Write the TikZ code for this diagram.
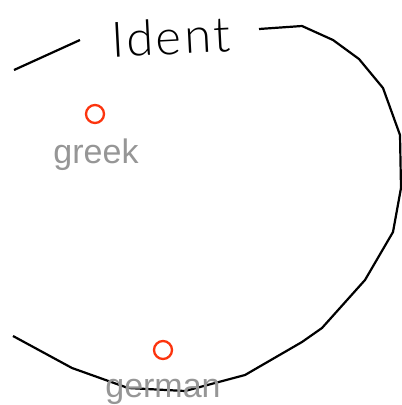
\documentclass[tikz,border=0pt]{standalone}
\usepackage{fontspec}
\setmainfont{Liberation Sans}
\newfontfamily\identfont{Lato}[UprightFont={* Light}, LetterSpace=6]
\usetikzlibrary{positioning}
\definecolor{SetLine}{RGB}{0,0,0}
\definecolor{PointRed}{RGB}{252,52,14}
\definecolor{LabelGray}{RGB}{150,150,150}
\tikzset{
  contorno/.style={draw=SetLine, line width=2.2pt, line join=miter},
  ponto/.style={circle, draw=PointRed, line width=2.3pt, minimum size=18pt, inner sep=0pt},
  rotulo/.style={text=LabelGray, font=\fontsize{34}{34}\selectfont, inner sep=0pt, anchor=base},
  titulo/.style={font=\identfont\fontsize{49}{49}\selectfont, inner sep=0pt, rotate=3},
}

\begin{document}
\begin{tikzpicture}[x=1pt, y=-1pt]
  \useasboundingbox (0,0) rectangle (402,405);

  % --- Contorno do conjunto (interrompido pelo titulo) --------------------
  \draw[contorno] (14,70) -- (80,40);
  \draw[contorno] (259,29) -- (302,26) -- (333,40) -- (359,59) -- (383,88)
    -- (400,135) -- (401,188) -- (393,232) -- (365,280) -- (322,328)
    -- (302,342) -- (245,375) -- (185,391) -- (128,388) -- (72,368) -- (13,336);

  % --- Titulo do conjunto -------------------------------------------------
  \node[titulo] (ident) at (171,37) {Ident};

  % --- Elementos ------------------------------------------------------------
  \node[ponto] (greek) at (95,114) {};
  \node[rotulo] (greeklbl) at (96,163) {greek};
  \node[ponto] (german) at (163,350) {};
  \node[rotulo] (germanlbl) at (163,397) {german};
\end{tikzpicture}
\end{document}
